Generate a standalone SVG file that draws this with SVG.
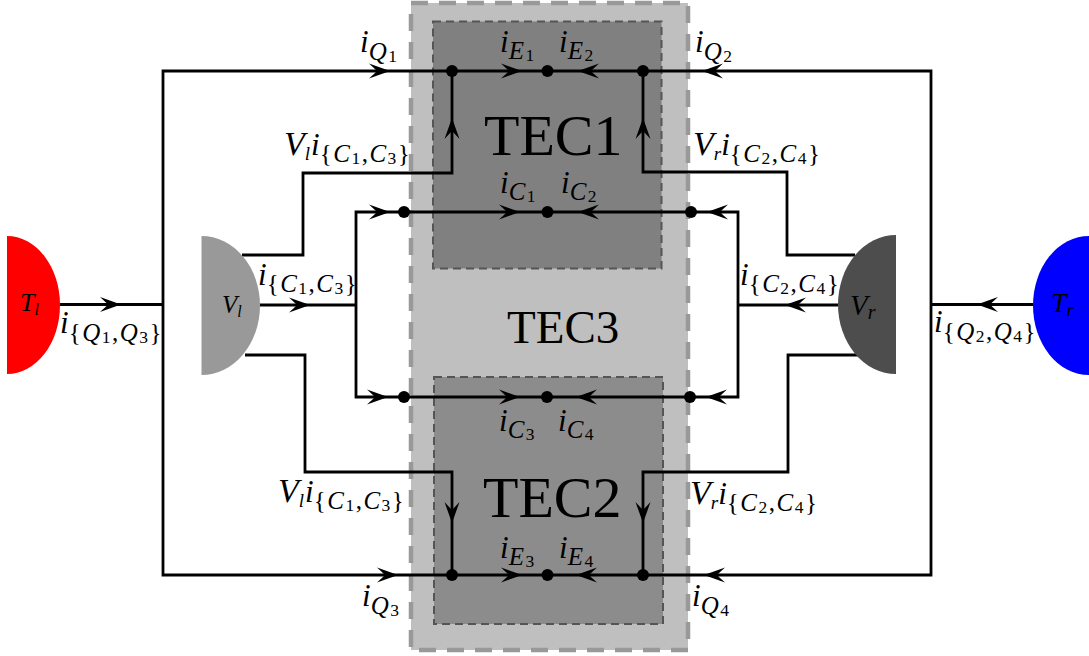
<svg xmlns="http://www.w3.org/2000/svg" xmlns:xlink="http://www.w3.org/1999/xlink" width="1089" height="656" viewBox="0 0 1089 656">
<style>
text{font-family:"Liberation Serif","Times New Roman",serif;fill:#000}
.m{font-style:italic;font-size:31px}
.v{font-size:34px}
.u{font-size:19px}
.s{font-style:italic;font-size:25px;letter-spacing:1.5px}
.n{font-style:normal;font-size:25px;letter-spacing:1.5px}
.t{font-size:17.500px;font-style:normal;letter-spacing:1.5px}
.b{font-size:58px}
.g{font-size:47px}
.c{font-style:italic;font-size:26px}
.w{fill:none;stroke:#000;stroke-width:2.8;stroke-linejoin:miter}
</style>
<defs>
<path id="ah" d="M0 0L-21-7.500Q-15-2-13 0Q-15 2-21 7.500Z" fill="#000"/>
<circle id="dot" r="6" fill="#000"/>
</defs>
<g id="TEC3">
<rect x="411" y="3" width="277" height="647" fill="#bfbfbf" stroke="#999" stroke-width="4.5" stroke-dasharray="17 11"/>
<text class="g" x="507" y="343">TEC3</text>
</g>
<g id="TEC1">
<rect x="433" y="21.500" width="228.500" height="247" fill="#808080" stroke="#555" stroke-width="2" stroke-dasharray="8 5"/>
<text class="b" x="484" y="155">TEC1</text>
</g>
<g id="TEC2">
<rect x="434" y="377" width="229" height="247" fill="#8c8c8c" stroke="#555" stroke-width="2" stroke-dasharray="8 5"/>
<text class="b" x="483" y="517">TEC2</text>
</g>
<g id="connectors">
<path class="w" d="M60 304.500H163M163 71H931V575H163ZM931 304.500H1033"/>
<path class="w" d="M242 255H303V173H452V71"/>
<path class="w" d="M855 255H787V172H643V71"/>
<path class="w" d="M245 355H305V472H452V575"/>
<path class="w" d="M858 355H788V472H643V575"/>
<path class="w" d="M260 305H356M356 212H738V397H356ZM838 305H738"/>
<use xlink:href="#ah" href="#ah" transform="translate(121 304.500)"/>
<use xlink:href="#ah" href="#ah" transform="translate(977 304.500) rotate(180)"/>
<use xlink:href="#ah" href="#ah" transform="translate(310 305)"/>
<use xlink:href="#ah" href="#ah" transform="translate(785 305) rotate(180)"/>
<use xlink:href="#ah" href="#ah" transform="translate(390 71)"/>
<use xlink:href="#ah" href="#ah" transform="translate(522 71)"/>
<use xlink:href="#ah" href="#ah" transform="translate(578 71) rotate(180)"/>
<use xlink:href="#ah" href="#ah" transform="translate(702 71) rotate(180)"/>
<use xlink:href="#ah" href="#ah" transform="translate(390 212)"/>
<use xlink:href="#ah" href="#ah" transform="translate(520 212)"/>
<use xlink:href="#ah" href="#ah" transform="translate(578 212) rotate(180)"/>
<use xlink:href="#ah" href="#ah" transform="translate(707 212) rotate(180)"/>
<use xlink:href="#ah" href="#ah" transform="translate(388 397)"/>
<use xlink:href="#ah" href="#ah" transform="translate(520 397)"/>
<use xlink:href="#ah" href="#ah" transform="translate(576 397) rotate(180)"/>
<use xlink:href="#ah" href="#ah" transform="translate(706 397) rotate(180)"/>
<use xlink:href="#ah" href="#ah" transform="translate(398 575)"/>
<use xlink:href="#ah" href="#ah" transform="translate(522 575)"/>
<use xlink:href="#ah" href="#ah" transform="translate(576 575) rotate(180)"/>
<use xlink:href="#ah" href="#ah" transform="translate(704 575) rotate(180)"/>
<use xlink:href="#ah" href="#ah" transform="translate(452 118) rotate(-90)"/>
<use xlink:href="#ah" href="#ah" transform="translate(643 118) rotate(-90)"/>
<use xlink:href="#ah" href="#ah" transform="translate(452 523) rotate(90)"/>
<use xlink:href="#ah" href="#ah" transform="translate(643 523) rotate(90)"/>
<use xlink:href="#dot" href="#dot" x="452" y="71"/>
<use xlink:href="#dot" href="#dot" x="547.500" y="71"/>
<use xlink:href="#dot" href="#dot" x="643" y="71"/>
<use xlink:href="#dot" href="#dot" x="404" y="212"/>
<use xlink:href="#dot" href="#dot" x="547.500" y="212"/>
<use xlink:href="#dot" href="#dot" x="691" y="212"/>
<use xlink:href="#dot" href="#dot" x="404" y="397"/>
<use xlink:href="#dot" href="#dot" x="547" y="397"/>
<use xlink:href="#dot" href="#dot" x="690" y="397"/>
<use xlink:href="#dot" href="#dot" x="452" y="575"/>
<use xlink:href="#dot" href="#dot" x="547.500" y="575"/>
<use xlink:href="#dot" href="#dot" x="643" y="575"/>
</g>
<g id="Tl"><path d="M7 236A53 69 0 0 1 7 374Z" fill="#f00"/><text class="c" x="20" y="311">T<tspan font-size="16" dy="4">l</tspan></text></g>
<g id="Vl"><path d="M201.500 236A58.500 69.500 0 0 1 201.500 375Z" fill="#999"/><text class="c" style="font-size:25px" x="222" y="313">V<tspan font-size="16" dy="4">l</tspan></text></g>
<g id="Vr"><path d="M896 235A58 69.500 0 0 0 896 374Z" fill="#4d4d4d"/><text class="c" style="font-size:29px" x="850" y="315">V<tspan font-size="20" dy="4">r</tspan></text></g>
<g id="Tr"><path d="M1089 236A56 69.500 0 0 0 1089 375Z" fill="#00f"/><text class="c" style="font-size:28px" x="1051" y="312">T<tspan font-size="19" dy="4">r</tspan></text></g>
<g id="labels">
<text class="m" x="360" y="52">i<tspan class="s" dy="8">Q</tspan><tspan class="t" dy="2">1</tspan></text>
<text class="m" x="695" y="52">i<tspan class="s" dy="8">Q</tspan><tspan class="t" dy="2">2</tspan></text>
<text class="m" x="500" y="52">i<tspan class="s" dy="7">E</tspan><tspan class="t" dy="2">1</tspan></text>
<text class="m" x="559" y="52">i<tspan class="s" dy="7">E</tspan><tspan class="t" dy="2">2</tspan></text>
<text class="m" x="500" y="193">i<tspan class="s" dy="7">C</tspan><tspan class="t" dy="2">1</tspan></text>
<text class="m" x="561" y="193">i<tspan class="s" dy="7">C</tspan><tspan class="t" dy="2">2</tspan></text>
<text class="m" x="499" y="431">i<tspan class="s" dy="7">C</tspan><tspan class="t" dy="2">3</tspan></text>
<text class="m" x="558" y="431">i<tspan class="s" dy="7">C</tspan><tspan class="t" dy="2">4</tspan></text>
<text class="m" x="500" y="558">i<tspan class="s" dy="7">E</tspan><tspan class="t" dy="2">3</tspan></text>
<text class="m" x="559" y="558">i<tspan class="s" dy="7">E</tspan><tspan class="t" dy="2">4</tspan></text>
<text class="m" x="362" y="606">i<tspan class="s" dy="8">Q</tspan><tspan class="t" dy="2">3</tspan></text>
<text class="m" x="692" y="606">i<tspan class="s" dy="8">Q</tspan><tspan class="t" dy="2">4</tspan></text>
<text class="m" x="284" y="155"><tspan class="v">V</tspan><tspan class="u" dy="5">l</tspan><tspan dy="-5" dx="1">i</tspan><tspan class="n" dy="7">{</tspan><tspan class="s">C</tspan><tspan class="t" dy="2">1</tspan><tspan class="n" dy="-2">,</tspan><tspan class="s">C</tspan><tspan class="t" dy="2">3</tspan><tspan class="n" dy="-2">}</tspan></text>
<text class="m" x="693" y="155"><tspan class="v">V</tspan><tspan class="u" dy="5">r</tspan><tspan dy="-5">i</tspan><tspan class="n" dy="7">{</tspan><tspan class="s">C</tspan><tspan class="t" dy="2">2</tspan><tspan class="n" dy="-2">,</tspan><tspan class="s">C</tspan><tspan class="t" dy="2">4</tspan><tspan class="n" dy="-2">}</tspan></text>
<text class="m" x="278" y="502"><tspan class="v">V</tspan><tspan class="u" dy="5">l</tspan><tspan dy="-5" dx="1">i</tspan><tspan class="n" dy="7">{</tspan><tspan class="s">C</tspan><tspan class="t" dy="2">1</tspan><tspan class="n" dy="-2">,</tspan><tspan class="s">C</tspan><tspan class="t" dy="2">3</tspan><tspan class="n" dy="-2">}</tspan></text>
<text class="m" x="690" y="504"><tspan class="v">V</tspan><tspan class="u" dy="5">r</tspan><tspan dy="-5">i</tspan><tspan class="n" dy="7">{</tspan><tspan class="s">C</tspan><tspan class="t" dy="2">2</tspan><tspan class="n" dy="-2">,</tspan><tspan class="s">C</tspan><tspan class="t" dy="2">4</tspan><tspan class="n" dy="-2">}</tspan></text>
<text class="m" x="258" y="285">i<tspan class="n" dy="7">{</tspan><tspan class="s">C</tspan><tspan class="t" dy="2">1</tspan><tspan class="n" dy="-2">,</tspan><tspan class="s">C</tspan><tspan class="t" dy="2">3</tspan><tspan class="n" dy="-2">}</tspan></text>
<text class="m" x="740" y="285">i<tspan class="n" dy="7">{</tspan><tspan class="s">C</tspan><tspan class="t" dy="2">2</tspan><tspan class="n" dy="-2">,</tspan><tspan class="s">C</tspan><tspan class="t" dy="2">4</tspan><tspan class="n" dy="-2">}</tspan></text>
<text class="m" x="60" y="333">i<tspan class="n" dy="8">{</tspan><tspan class="s">Q</tspan><tspan class="t" dy="2">1</tspan><tspan class="n" dy="-2">,</tspan><tspan class="s">Q</tspan><tspan class="t" dy="2">3</tspan><tspan class="n" dy="-2">}</tspan></text>
<text class="m" x="934" y="332">i<tspan class="n" dy="8">{</tspan><tspan class="s">Q</tspan><tspan class="t" dy="2">2</tspan><tspan class="n" dy="-2">,</tspan><tspan class="s">Q</tspan><tspan class="t" dy="2">4</tspan><tspan class="n" dy="-2">}</tspan></text>
</g>
</svg>
